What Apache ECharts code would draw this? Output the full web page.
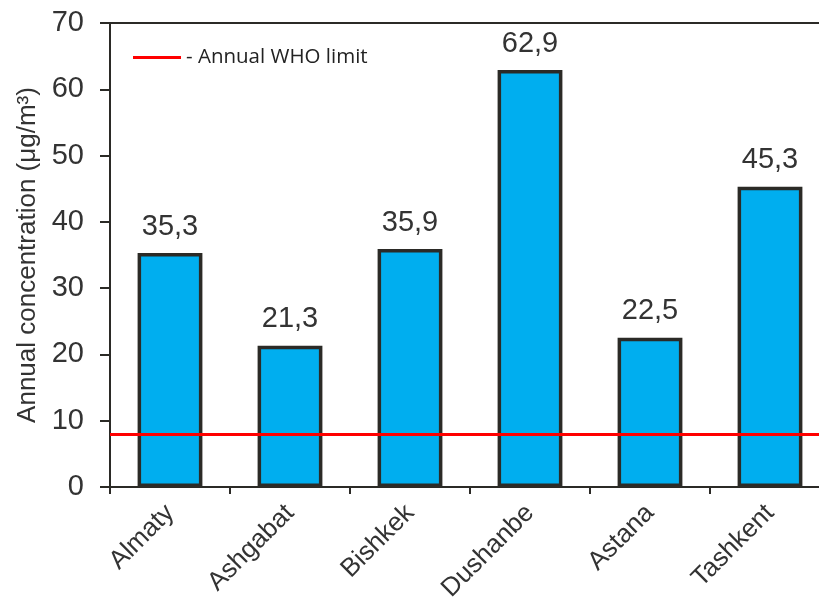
<!DOCTYPE html>
<html>
<head>
<meta charset="utf-8">
<script src="https://cdn.jsdelivr.net/npm/echarts@6/dist/echarts.min.js"></script>
<style>
  html, body { margin: 0; padding: 0; background: #fff; }
  #chart { width: 819px; height: 603px; }
</style>
</head>
<body>
<div id="chart"></div>
<script>
const cities = ["Almaty", "Ashgabat", "Bishkek", "Dushanbe", "Astana", "Tashkent"];
const concentration = [35.3, 21.3, 35.9, 62.9, 22.5, 45.3];
const whoLimit = 8;
const yTicks = [0, 10, 20, 30, 40, 50, 60, 70];

const dark = "#2b2a26";
const chart = echarts.init(document.getElementById("chart"));

chart.setOption({
  animation: false,
  grid: {
    left: 110,
    top: 23,
    width: 720,
    bottom: 116,
    containLabel: false,
    outerBoundsMode: "none",
    show: true,
    borderColor: dark,
    borderWidth: 2,
    backgroundColor: "transparent"
  },
  legend: {
    data: [{ name: "- Annual WHO limit" }],
    left: 128,
    top: 42,
    icon: "rect",
    itemWidth: 48,
    itemHeight: 3,
    itemGap: 4,
    textStyle: { fontFamily: "Open Sans", fontSize: 20.5, color: "#222" }
  },
  xAxis: {
    type: "category",
    data: cities,
    axisLine: { lineStyle: { color: dark, width: 2 } },
    axisTick: { show: true, length: 7, lineStyle: { color: dark, width: 2 } },
    axisLabel: {
      rotate: 45,
      margin: 22,
      fontFamily: "Liberation Sans",
      fontSize: 26,
      color: "#333"
    }
  },
  yAxis: {
    type: "value",
    min: yTicks[0],
    max: yTicks[yTicks.length - 1],
    interval: 10,
    name: "Annual concentration (μg/m³)",
    nameLocation: "middle",
    nameGap: 68,
    nameTextStyle: { fontFamily: "Liberation Sans", fontSize: 26, color: "#333" },
    axisLine: { show: true, lineStyle: { color: dark, width: 2 } },
    axisTick: { show: true, length: 10, lineStyle: { color: dark, width: 2 } },
    splitLine: { show: false },
    axisLabel: {
      margin: 26,
      fontFamily: "Liberation Sans",
      fontSize: 29,
      color: "#333"
    }
  },
  series: [
    {
      type: "bar",
      data: concentration,
      barWidth: "54%",
      itemStyle: { color: "#00aeef", borderColor: dark, borderWidth: 3.5 },
      label: {
        show: true,
        position: "top",
        distance: 12,
        fontFamily: "Liberation Sans",
        fontSize: 29,
        color: "#333",
        formatter: p => String(p.value).replace(".", ",")
      }
    },
    {
      name: "- Annual WHO limit",
      type: "line",
      data: [],
      itemStyle: { color: "#ff0000" },
      lineStyle: { color: "#ff0000", width: 3 },
      markLine: {
        silent: true,
        symbol: "none",
        label: { show: false },
        lineStyle: { color: "#ff0000", width: 3, type: "solid" },
        data: [{ yAxis: whoLimit }]
      }
    }
  ]
});
</script>
</body>
</html>
